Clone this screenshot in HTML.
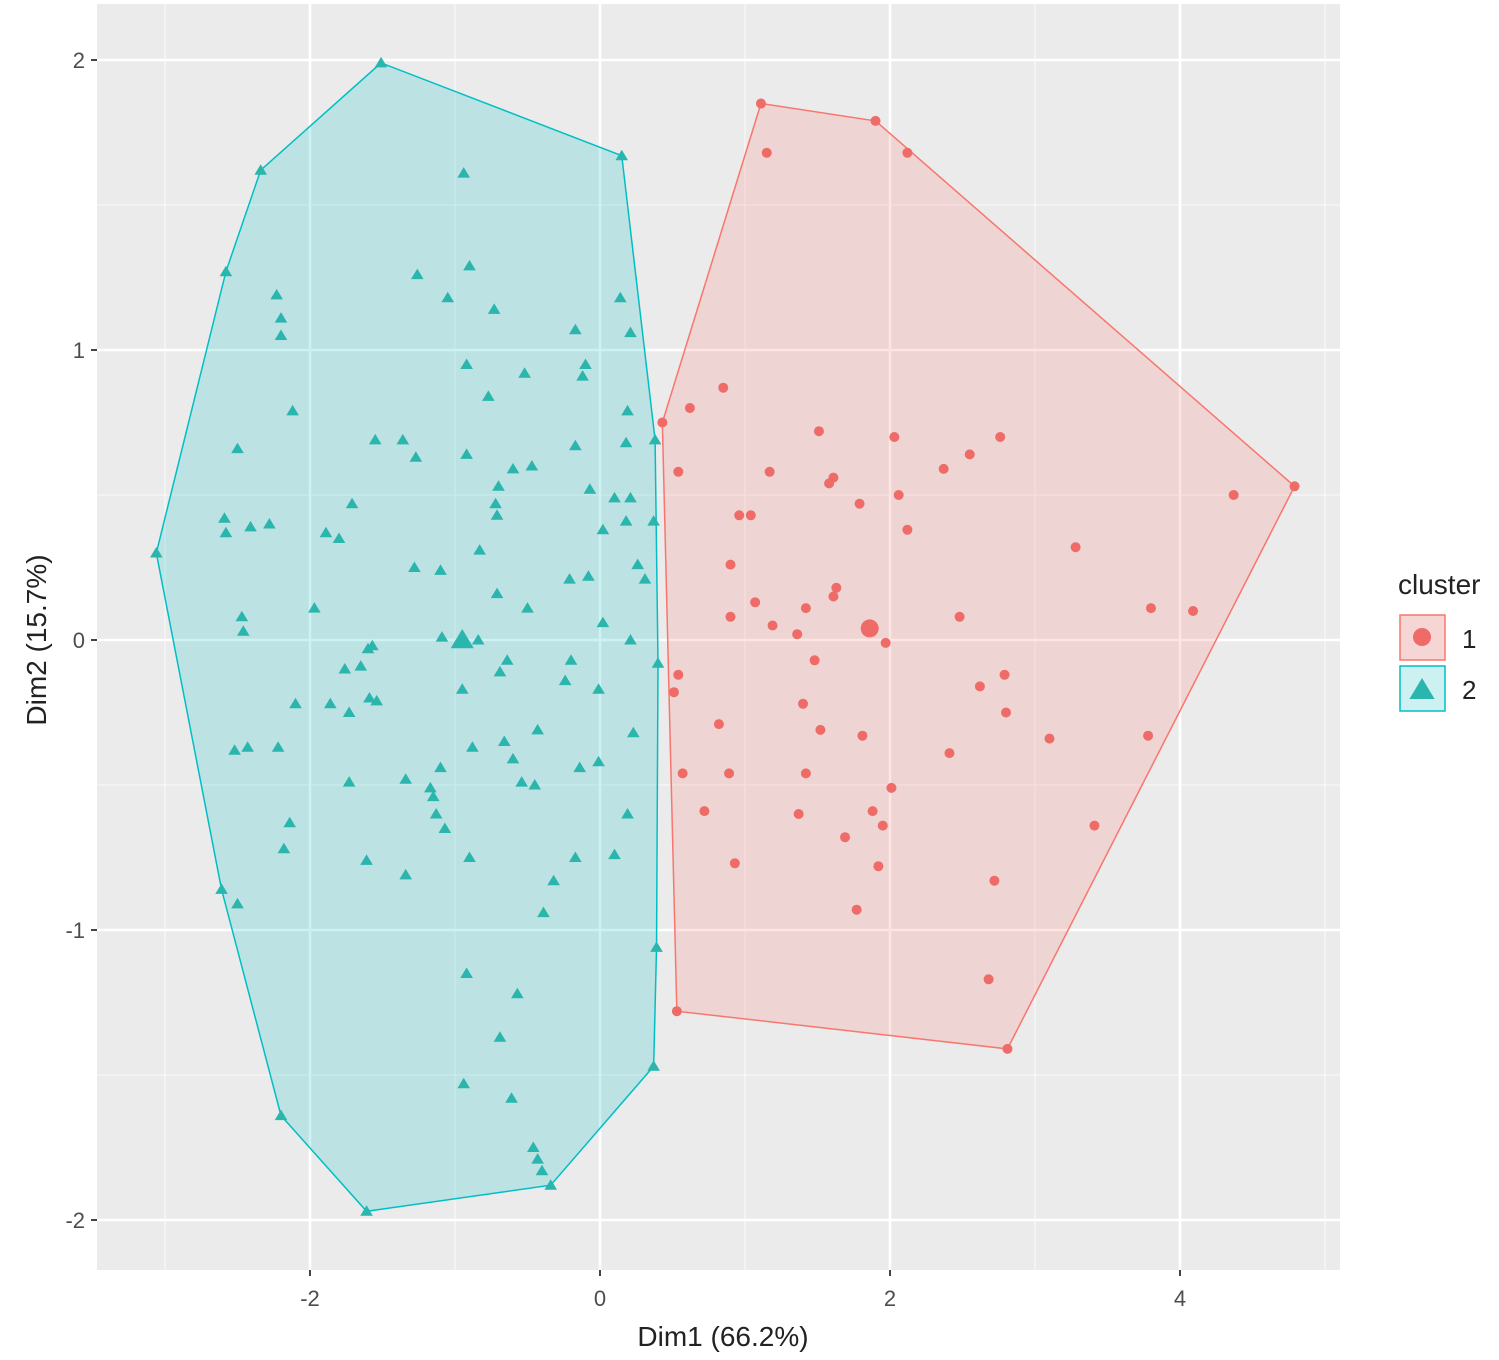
<!DOCTYPE html>
<html><head><meta charset="utf-8"><style>
body{margin:0;background:#fff;font-family:"Liberation Sans",sans-serif;}
svg{display:block}
</style></head><body>
<svg id="chart" width="1499" height="1360">
</svg>
<script>
const xTicks=[-2,0,2,4];
const yTicks=[-2,-1,0,1,2];
const xMinor=[-3,-1,1,3,5];
const yMinor=[-1.5,-0.5,0.5,1.5];
const c1x=[1.11,1.90,2.12,1.15,4.79,2.81,0.53,0.43,0.62,0.85,0.54,1.51,2.03,2.76,2.55,2.37,1.17,1.61,1.58,4.37,2.06,1.79,0.96,1.04,2.12,3.28,0.90,1.63,1.61,1.07,1.42,3.80,4.09,2.48,0.90,1.19,1.36,1.97,1.48,0.54,0.51,2.79,2.62,1.40,2.80,0.82,1.52,1.81,2.41,3.10,3.78,0.57,0.89,1.42,2.01,0.72,1.37,1.88,1.95,1.69,3.41,0.93,1.92,2.72,1.77,2.68];
const c1y=[1.85,1.79,1.68,1.68,0.53,-1.41,-1.28,0.75,0.80,0.87,0.58,0.72,0.70,0.70,0.64,0.59,0.58,0.56,0.54,0.50,0.50,0.47,0.43,0.43,0.38,0.32,0.26,0.18,0.15,0.13,0.11,0.11,0.10,0.08,0.08,0.05,0.02,-0.01,-0.07,-0.12,-0.18,-0.12,-0.16,-0.22,-0.25,-0.29,-0.31,-0.33,-0.39,-0.34,-0.33,-0.46,-0.46,-0.46,-0.51,-0.59,-0.60,-0.59,-0.64,-0.68,-0.64,-0.77,-0.78,-0.83,-0.93,-1.17];
const c2x=[-1.51,0.15,-2.34,-0.94,-2.58,-1.26,-0.90,-2.23,-1.05,0.14,-2.20,-2.20,-0.73,0.21,-0.17,-0.10,-0.92,-0.12,-0.52,-0.77,-2.12,0.19,-1.36,-1.55,-1.27,-2.50,0.38,-0.17,0.18,-0.92,-0.47,-0.60,-0.70,-1.71,-0.72,-0.07,0.10,0.21,-2.59,-2.28,-2.41,-2.58,0.18,-0.71,0.37,0.02,-0.83,-1.89,-1.80,-3.06,-1.28,-1.10,-0.21,-0.08,0.26,0.31,-0.71,-1.97,-2.47,-2.46,-0.50,-1.57,-1.60,0.02,-1.09,-0.84,-0.64,0.21,0.40,-1.76,-1.65,-0.20,-0.69,-0.95,-0.24,-0.01,-2.10,-1.86,-1.73,-1.59,-1.54,-2.52,-2.43,-2.22,-0.88,-0.66,-0.43,0.23,-0.60,-1.10,-0.14,-0.01,-0.54,-0.45,-1.34,-1.17,-1.73,-1.15,-1.13,-1.07,0.19,-2.14,-2.18,-0.90,-0.17,0.10,-1.61,-1.34,-0.32,-2.61,-2.50,-0.39,0.39,-0.92,-0.57,-0.69,0.37,-0.94,-0.61,-2.20,-0.46,-0.43,-0.40,-0.34,-1.61];
const c2y=[1.99,1.67,1.62,1.61,1.27,1.26,1.29,1.19,1.18,1.18,1.11,1.05,1.14,1.06,1.07,0.95,0.95,0.91,0.92,0.84,0.79,0.79,0.69,0.69,0.63,0.66,0.69,0.67,0.68,0.64,0.60,0.59,0.53,0.47,0.47,0.52,0.49,0.49,0.42,0.40,0.39,0.37,0.41,0.43,0.41,0.38,0.31,0.37,0.35,0.30,0.25,0.24,0.21,0.22,0.26,0.21,0.16,0.11,0.08,0.03,0.11,-0.02,-0.03,0.06,0.01,0.00,-0.07,0.00,-0.08,-0.10,-0.09,-0.07,-0.11,-0.17,-0.14,-0.17,-0.22,-0.22,-0.25,-0.20,-0.21,-0.38,-0.37,-0.37,-0.37,-0.35,-0.31,-0.32,-0.41,-0.44,-0.44,-0.42,-0.49,-0.50,-0.48,-0.51,-0.49,-0.54,-0.60,-0.65,-0.60,-0.63,-0.72,-0.75,-0.75,-0.74,-0.76,-0.81,-0.83,-0.86,-0.91,-0.94,-1.06,-1.15,-1.22,-1.37,-1.47,-1.53,-1.58,-1.64,-1.75,-1.79,-1.83,-1.88,-1.97];
const centX=[1.86,-0.95];
const centY=[0.04,0.00];

const NS="http://www.w3.org/2000/svg";
const svg=document.getElementById('chart');
const PL=97,PR=1340,PT=4,PB=1270;
const X=v=>600+v*145;
const Y=v=>640-v*290;
function el(t,a,p){const e=document.createElementNS(NS,t);for(const k in a)e.setAttribute(k,a[k]);(p||svg).appendChild(e);return e;}
const bg=el('rect',{x:PL,y:PT,width:PR-PL,height:PB-PT,fill:'#ebebeb'});


xMinor.forEach(v=>{const l=el('line',{x1:X(v),x2:X(v),y1:PT,y2:PB,stroke:'#f7f7f7','stroke-width':1.3});

});
yMinor.forEach(v=>{const l=el('line',{x1:PL,x2:PR,y1:Y(v),y2:Y(v),stroke:'#f7f7f7','stroke-width':1.3});

});
xTicks.forEach(v=>{const l=el('line',{x1:X(v),x2:X(v),y1:PT,y2:PB,stroke:'#fff','stroke-width':2.6});


el('line',{x1:X(v),x2:X(v),y1:PB,y2:PB+6,stroke:'#444','stroke-width':2});
const t=el('text',{x:X(v),y:PB+36,'text-anchor':'middle','font-size':22,fill:'#4d4d4d'});t.textContent=v;

});
yTicks.forEach(v=>{const l=el('line',{x1:PL,x2:PR,y1:Y(v),y2:Y(v),stroke:'#fff','stroke-width':2.6});


el('line',{x1:PL-6,x2:PL,y1:Y(v),y2:Y(v),stroke:'#444','stroke-width':2});
const t=el('text',{x:PL-12,y:Y(v)+8,'text-anchor':'end','font-size':22,fill:'#4d4d4d'});t.textContent=v;

});
function hull(xs,ys){const p=xs.map((x,i)=>[X(x),Y(ys[i])]).sort((a,b)=>a[0]-b[0]||a[1]-b[1]);
const cr=(o,a,b)=>(a[0]-o[0])*(b[1]-o[1])-(a[1]-o[1])*(b[0]-o[0]);
const lo=[],up=[];for(const q of p){while(lo.length>=2&&cr(lo[lo.length-2],lo[lo.length-1],q)<=0)lo.pop();lo.push(q);}
for(const q of p.slice().reverse()){while(up.length>=2&&cr(up[up.length-2],up[up.length-1],q)<=0)up.pop();up.push(q);}
return lo.slice(0,-1).concat(up.slice(0,-1)).map(q=>q.join(',')).join(' ');}
const h2=el('polygon',{points:hull(c2x,c2y),fill:'#00BFC4','fill-opacity':0.2,stroke:'#00BFC4','stroke-width':1.5});


const h1=el('polygon',{points:hull(c1x,c1y),fill:'#F8766D','fill-opacity':0.2,stroke:'#F8766D','stroke-width':1.5});


function tri(cx,cy,s){return `${cx},${cy-s} ${cx-s*1.05},${cy+s*0.75} ${cx+s*1.05},${cy+s*0.75}`;}
c2x.forEach((v,i)=>{const t=el('polygon',{points:tri(X(v),Y(c2y[i]),6),fill:'#2ab5ad'});

});
c1x.forEach((v,i)=>{const c=el('circle',{cx:X(v),cy:Y(c1y[i]),r:5,fill:'#ef6b67'});

});
const cc=el('circle',{cx:X(centX[0]),cy:Y(centY[0]),r:9,fill:'#ef6b67'});


const ct=el('polygon',{points:tri(X(centX[1]),Y(centY[1]),11),fill:'#2ab5ad'});


const xt=el('text',{x:723,y:1346,'text-anchor':'middle','font-size':28,fill:'#222'});xt.textContent='Dim1 (66.2%)';


const yt=el('text',{x:0,y:0,'text-anchor':'middle','font-size':28,fill:'#222',transform:'translate(46,640) rotate(-90)'});yt.textContent='Dim2 (15.7%)';


const lt=el('text',{x:1398,y:594,'font-size':28,fill:'#222'});lt.textContent='cluster';


const k1=el('rect',{x:1400,y:615,width:45,height:45,fill:'#f5d6d4',stroke:'#F8766D','stroke-width':1.5});


el('circle',{cx:1422,cy:637,r:9,fill:'#ef6b67'});
const l1=el('text',{x:1462,y:648,'font-size':26,fill:'#222'});l1.textContent='1';


const k2=el('rect',{x:1400,y:666,width:45,height:45,fill:'#cdf1f0',stroke:'#00BFC4','stroke-width':1.5});


el('polygon',{points:tri(1422,690,12),fill:'#2ab5ad'});
const l2=el('text',{x:1462,y:699,'font-size':26,fill:'#222'});l2.textContent='2';


</script>
</body></html>
